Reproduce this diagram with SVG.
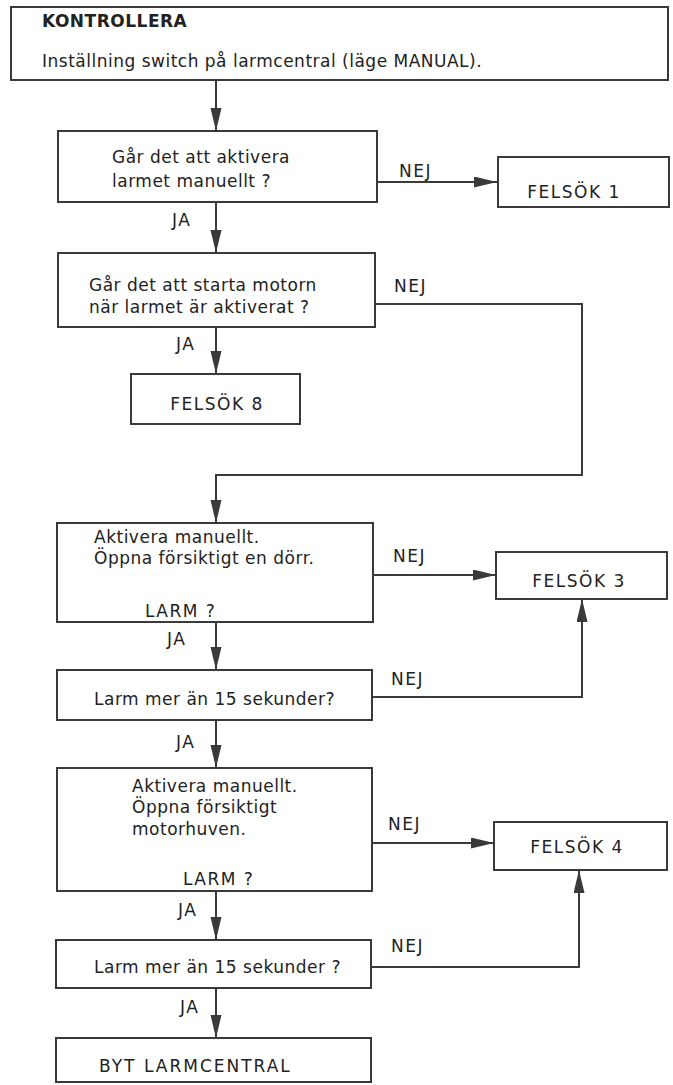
<svg xmlns="http://www.w3.org/2000/svg" width="673" height="1085" viewBox="0 0 673 1085">
<style>
.box{fill:#fff;stroke:#3a3a3a;stroke-width:2}
.t{font-family:"DejaVu Sans","Liberation Sans",sans-serif;font-size:17px;letter-spacing:0.5px;fill:#222}
.cap{letter-spacing:1.5px}
.m{text-anchor:middle}
.b{font-weight:bold}
.c{fill:none;stroke:#3a3a3a;stroke-width:2}
</style>
<defs>
<marker id="ah" markerUnits="userSpaceOnUse" markerWidth="24" markerHeight="12" refX="23" refY="5.5" orient="auto">
<path d="M0,0 L23,5.5 L0,11 Z" fill="#3a3a3a"/>
</marker>
</defs>
<rect width="673" height="1085" fill="#fff"/>
<g id="connectors">
<line class="c" x1="216" y1="80" x2="216" y2="131" marker-end="url(#ah)"/>
<line class="c" x1="377" y1="182" x2="497" y2="182" marker-end="url(#ah)"/>
<line class="c" x1="216" y1="202" x2="216" y2="253" marker-end="url(#ah)"/>
<line class="c" x1="216" y1="327" x2="216" y2="374" marker-end="url(#ah)"/>
<polyline class="c" points="375,304 582,304 582,475 216,475 216,523" marker-end="url(#ah)"/>
<line class="c" x1="373" y1="575" x2="496" y2="575" marker-end="url(#ah)"/>
<line class="c" x1="216" y1="622" x2="216" y2="670" marker-end="url(#ah)"/>
<polyline class="c" points="372,697 582,697 582,599" marker-end="url(#ah)"/>
<line class="c" x1="216" y1="720" x2="216" y2="768" marker-end="url(#ah)"/>
<line class="c" x1="372" y1="843" x2="494" y2="843" marker-end="url(#ah)"/>
<line class="c" x1="216" y1="891" x2="216" y2="940" marker-end="url(#ah)"/>
<polyline class="c" points="371,967 579,967 579,870" marker-end="url(#ah)"/>
<line class="c" x1="216" y1="988" x2="216" y2="1038" marker-end="url(#ah)"/>
<text class="t cap" x="399" y="177">NEJ</text>
<text class="t cap" x="172" y="226">JA</text>
<text class="t cap" x="394" y="292">NEJ</text>
<text class="t cap" x="176" y="350">JA</text>
<text class="t cap" x="393" y="562">NEJ</text>
<text class="t cap" x="167" y="645">JA</text>
<text class="t cap" x="391" y="685">NEJ</text>
<text class="t cap" x="176" y="748">JA</text>
<text class="t cap" x="388" y="830">NEJ</text>
<text class="t cap" x="178" y="916">JA</text>
<text class="t cap" x="391" y="952">NEJ</text>
<text class="t cap" x="180" y="1013">JA</text>
</g>
<g id="kontrollera">
<rect class="box" x="11" y="7" width="657" height="73"/>
<text class="t b" x="42" y="27">KONTROLLERA</text>
<text class="t" x="42" y="67">Inställning switch på larmcentral (läge MANUAL).</text>
</g>
<g id="q1">
<rect class="box" x="58" y="131" width="319" height="71"/>
<text class="t" x="112" y="163">Går det att aktivera</text>
<text class="t" x="112" y="187">larmet manuellt ?</text>
</g>
<g id="felsok1">
<rect class="box" x="498" y="157" width="171" height="50"/>
<text class="t cap m" x="574" y="198">FELSÖK 1</text>
</g>
<g id="q2">
<rect class="box" x="58" y="253" width="317" height="74"/>
<text class="t" x="89" y="291">Går det att starta motorn</text>
<text class="t" x="89" y="313">när larmet är aktiverat ?</text>
</g>
<g id="felsok8">
<rect class="box" x="131" y="374" width="169" height="50"/>
<text class="t cap m" x="217" y="410">FELSÖK 8</text>
</g>
<g id="q3">
<rect class="box" x="57" y="523" width="316" height="99"/>
<text class="t" x="94" y="543">Aktivera manuellt.</text>
<text class="t" x="94" y="564">Öppna försiktigt en dörr.</text>
<text class="t cap" x="145" y="617">LARM ?</text>
</g>
<g id="felsok3">
<rect class="box" x="496" y="552" width="171" height="47"/>
<text class="t cap m" x="579" y="587">FELSÖK 3</text>
</g>
<g id="q4">
<rect class="box" x="57" y="670" width="315" height="50"/>
<text class="t" x="94" y="705">Larm mer än 15 sekunder?</text>
</g>
<g id="q5">
<rect class="box" x="57" y="768" width="315" height="123"/>
<text class="t" x="132" y="792">Aktivera manuellt.</text>
<text class="t" x="132" y="813">Öppna försiktigt</text>
<text class="t" x="132" y="835">motorhuven.</text>
<text class="t cap" x="183" y="885">LARM ?</text>
</g>
<g id="felsok4">
<rect class="box" x="494" y="822" width="173" height="48"/>
<text class="t cap m" x="577" y="853">FELSÖK 4</text>
</g>
<g id="q6">
<rect class="box" x="56" y="940" width="315" height="48"/>
<text class="t" x="94" y="973">Larm mer än 15 sekunder ?</text>
</g>
<g id="byt">
<rect class="box" x="56" y="1038" width="315" height="44"/>
<text class="t" x="99" y="1072" style="letter-spacing:2px">BYT LARMCENTRAL</text>
</g>
</svg>
